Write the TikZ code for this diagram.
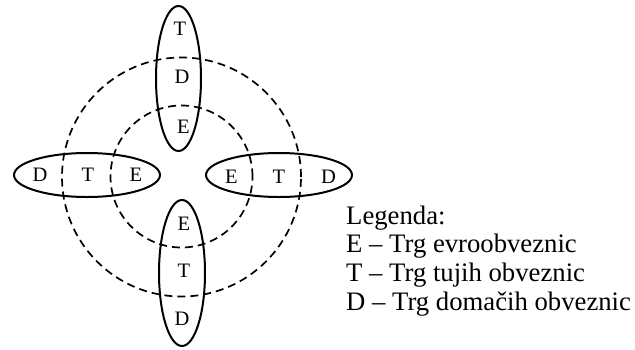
\documentclass[tikz,border=0pt]{standalone}
\usepackage{fontspec}
\setmainfont{Liberation Serif}
\usetikzlibrary{shapes.geometric}
\begin{document}
\begin{tikzpicture}[x=1pt,y=-1pt,
  ring/.style={draw, circle, dash pattern=on 8pt off 5pt, line width=1.7pt, inner sep=0pt},
  lobe/.style={draw, ellipse, line width=2pt, inner sep=0pt},
  tag/.style={font=\fontsize{20.5}{20.5}\selectfont, inner sep=0pt},
  legend/.style={font=\fontsize{26.7}{26.7}\selectfont, anchor=base west, inner sep=0pt}]
\useasboundingbox (0,0) rectangle (635,349);

% two dashed market rings
\node[ring, minimum size=239pt] (outer) at (181.5,177) {};
\node[ring, minimum size=142pt] (inner) at (181.5,176.5) {};

% four solid lobes
\node[lobe, minimum width=45pt, minimum height=145pt] (top) at (178.5,78.5) {};
\node[lobe, minimum width=146pt, minimum height=44pt] (left) at (87,175) {};
\node[lobe, minimum width=146pt, minimum height=44pt] (right) at (279,175) {};
\node[lobe, minimum width=46pt, minimum height=146pt] (bottom) at (182,273) {};

% letters in the top lobe
\node[tag] (tT) at (180,29) {T};
\node[tag] (tD) at (182,76.5) {D};
\node[tag] (tE) at (183.5,127) {E};
% letters in the left lobe
\node[tag] (lD) at (40,175) {D};
\node[tag] (lT) at (88,175) {T};
\node[tag] (lE) at (136,175) {E};
% letters in the right lobe
\node[tag] (rE) at (231.5,176.5) {E};
\node[tag] (rT) at (279,176.5) {T};
\node[tag] (rD) at (328.5,176.5) {D};
% letters in the bottom lobe
\node[tag] (bE) at (184,223.5) {E};
\node[tag] (bT) at (184,270.5) {T};
\node[tag] (bD) at (182,319) {D};

% legend
\node[legend] (lg0) at (346,224) {Legenda:};
\node[legend] (lg1) at (346,252) {E – Trg evroobveznic};
\node[legend] (lg2) at (346,281) {T – Trg tujih obveznic};
\node[legend] (lg3) at (346,310) {D – Trg domačih obveznic};
\end{tikzpicture}
\end{document}
